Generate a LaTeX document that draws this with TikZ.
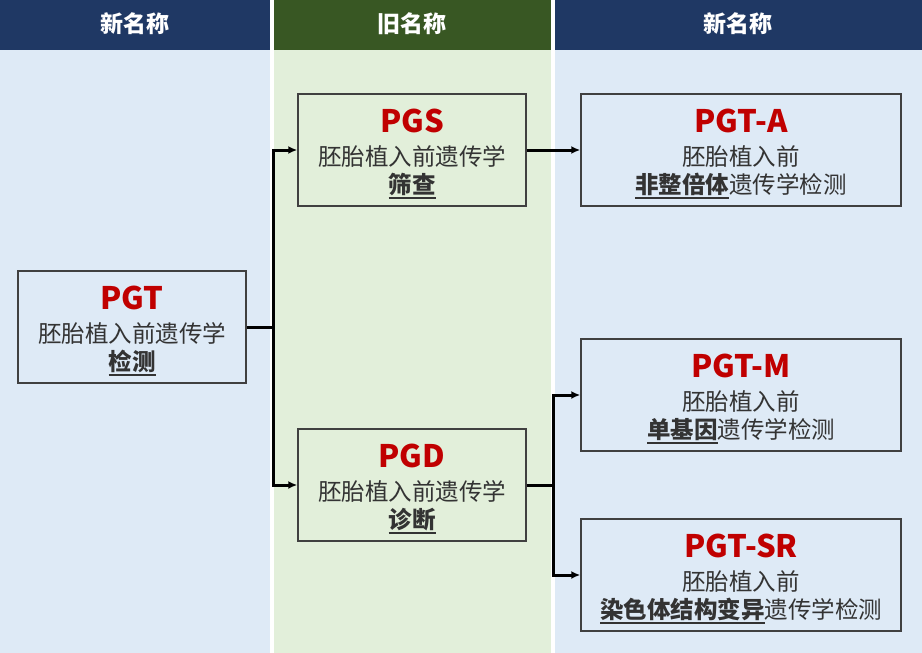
\documentclass[tikz,border=0pt]{standalone}
\usepackage{fontspec}
\setmainfont{Noto Sans CJK SC}
\usetikzlibrary{arrows.meta}
\definecolor{navyhead}{HTML}{1F3864}
\definecolor{greenhead}{HTML}{385723}
\definecolor{bodyblue}{HTML}{DEEAF6}
\definecolor{bodygreen}{HTML}{E2EFDA}
\definecolor{boxgray}{HTML}{404040}
\definecolor{txtgray}{HTML}{333333}
\definecolor{titlered}{HTML}{C00000}
\newcommand\ulx[1]{\setbox0\hbox{#1}\rlap{\vrule height -4pt depth 6pt width \wd0}\box0}
\begin{document}
\begin{tikzpicture}[x=1pt,y=-1pt,
  headtxt/.style={text=white,font=\fontsize{23}{23}\selectfont\bfseries},
  box/.style={draw=boxgray,line width=1.5pt,inner sep=0pt,minimum height=112pt},
  narrowbox/.style={box,minimum width=228pt},
  widebox/.style={box,minimum width=320pt},
  ttl/.style={anchor=base,text=titlered,font=\fontsize{31}{31}\selectfont\bfseries,inner sep=0pt},
  body/.style={anchor=base,text=txtgray,font=\fontsize{23.5}{23.5}\selectfont,inner sep=0pt},
  conn/.style={draw=black,line width=3pt},
  tip/.style={-{Latex[length=9pt,width=8pt]}},
  tips/.style={{Latex[length=9pt,width=8pt]}-{Latex[length=9pt,width=8pt]}}]
\useasboundingbox (0,0) rectangle (922,653);
% column backgrounds
\fill[white] (0,0) rectangle (922,653);
\fill[bodyblue] (0,50) rectangle (270,653);
\fill[bodygreen] (274,50) rectangle (551,653);
\fill[bodyblue] (555,50) rectangle (922,653);
\fill[navyhead] (0,0) rectangle (270,50);
\fill[greenhead] (274,0) rectangle (551,50);
\fill[navyhead] (555,0) rectangle (922,50);
\node[headtxt] (h1) at (135,24) {新名称};
\node[headtxt] (h2) at (412,24) {旧名称};
\node[headtxt] (h3) at (738,24) {新名称};
% boxes
\node[narrowbox] (pgt) at (132,327) {};
\node[narrowbox] (pgs) at (412,150) {};
\node[narrowbox] (pgd) at (412,485) {};
\node[widebox] (pgta) at (741,150) {};
\node[widebox] (pgtm) at (741,395) {};
\node[widebox] (pgtsr) at (741,575) {};
% texts
\node[ttl] (pgt-t) at ([yshift=17.5pt]pgt.center) {PGT};
\node[body] (pgt-b) at ([yshift=-15pt]pgt.center) {胚胎植入前遗传学};
\node[body] (pgt-c) at ([yshift=-43pt]pgt.center) {\bfseries\ulx{检测}};
\node[ttl] (pgs-t) at ([yshift=17.5pt]pgs.center) {PGS};
\node[body] (pgs-b) at ([yshift=-15pt]pgs.center) {胚胎植入前遗传学};
\node[body] (pgs-c) at ([yshift=-43pt]pgs.center) {\bfseries\ulx{筛查}};
\node[ttl] (pgd-t) at ([yshift=17.5pt]pgd.center) {PGD};
\node[body] (pgd-b) at ([yshift=-15pt]pgd.center) {胚胎植入前遗传学};
\node[body] (pgd-c) at ([yshift=-43pt]pgd.center) {\bfseries\ulx{诊断}};
\node[ttl] (pgta-t) at ([yshift=17.5pt]pgta.center) {PGT-A};
\node[body] (pgta-b) at ([yshift=-15pt]pgta.center) {胚胎植入前};
\node[body] (pgta-c) at ([yshift=-43pt]pgta.center) {{\bfseries\ulx{非整倍体}}遗传学检测};
\node[ttl] (pgtm-t) at ([yshift=17.5pt]pgtm.center) {PGT-M};
\node[body] (pgtm-b) at ([yshift=-15pt]pgtm.center) {胚胎植入前};
\node[body] (pgtm-c) at ([yshift=-43pt]pgtm.center) {{\bfseries\ulx{单基因}}遗传学检测};
\node[ttl] (pgtsr-t) at ([yshift=17.5pt]pgtsr.center) {PGT-SR};
\node[body] (pgtsr-b) at ([yshift=-15pt]pgtsr.center) {胚胎植入前};
\node[body] (pgtsr-c) at ([yshift=-43pt]pgtsr.center) {{\bfseries\ulx{染色体结构变异}}遗传学检测};
% connectors
\path (pgt.east) ++(27,0) coordinate (ja);
\path (pgd.east) ++(27,0) coordinate (jb);
\draw[conn] (pgt.east) -- (ja);
\draw[conn,tips] (pgs.west) -| (ja) |- (pgd.west);
\draw[conn,tip] (pgs.east) -- (pgta.west);
\draw[conn] (pgd.east) -- (jb);
\draw[conn,tips] (pgtm.west) -| (jb) |- (pgtsr.west);
\end{tikzpicture}
\end{document}
